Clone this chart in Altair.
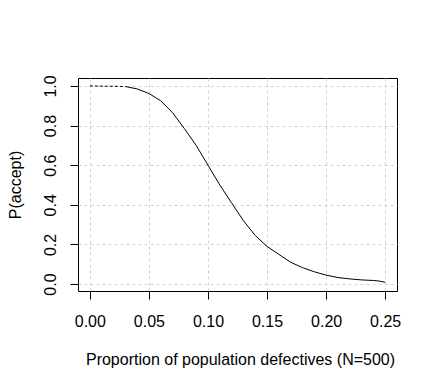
import altair as alt
import pandas as pd

p_solid = [0.03, 0.04, 0.05, 0.06, 0.07, 0.08, 0.09, 0.10, 0.11, 0.12, 0.13, 0.14,
           0.15, 0.16, 0.17, 0.18, 0.19, 0.20, 0.21, 0.22, 0.23, 0.24, 0.245, 0.25]
pa_solid = [0.997, 0.985, 0.962, 0.925, 0.865, 0.785, 0.70, 0.60, 0.50, 0.41, 0.32, 0.245,
            0.19, 0.15, 0.11, 0.083, 0.062, 0.045, 0.033, 0.026, 0.021, 0.018, 0.015, 0.009]
p_dotted = [0.0, 0.03]
pa_dotted = [1.0, 0.997]

x_ticks = [0.0, 0.05, 0.10, 0.15, 0.20, 0.25]
y_ticks = [0.0, 0.2, 0.4, 0.6, 0.8, 1.0]

solid = pd.DataFrame({"p": p_solid, "pa": pa_solid})
dotted = pd.DataFrame({"p": p_dotted, "pa": pa_dotted})

FONT = "Liberation Sans"
xs = alt.Scale(domain=[-0.01, 0.26], nice=False, zero=False)
ys = alt.Scale(domain=[-0.035, 1.04], nice=False, zero=False)

W, H = 319, 213

x_axis = alt.Axis(values=x_ticks, format=".2f", grid=True, gridColor="#d3d3d3",
                  gridDash=[3, 3], gridWidth=1, domain=False, ticks=True, tickSize=8,
                  tickColor="black", tickWidth=1, labelFont=FONT, labelFontSize=16,
                  labelColor="black", labelBaseline="alphabetic", labelPadding=27,
                  labelFlush=False, labelOverlap=False,
                  title="Proportion of population defectives (N=500)",
                  titleFont=FONT, titleFontSize=16, titleFontWeight="normal",
                  titleColor="black", titleX=162, titleY=73, titleAlign="center",
                  titleBaseline="alphabetic")
y_axis = alt.Axis(values=y_ticks, format=".1f", grid=True, gridColor="#d3d3d3",
                  gridDash=[3, 3], gridWidth=1, domain=False, ticks=True, tickSize=8,
                  tickColor="black", tickWidth=1, labelFont=FONT, labelFontSize=16,
                  labelColor="black", labelAngle=270, labelAlign="center",
                  labelBaseline="alphabetic", labelPadding=15,
                  labelFlush=False, labelOverlap=False,
                  title="P(accept)", titleFont=FONT, titleFontSize=16,
                  titleFontWeight="normal", titleColor="black", titleAngle=270,
                  titleX=-58, titleY=H / 2, titleAlign="center",
                  titleBaseline="alphabetic")

base_solid = alt.Chart(solid).mark_line(color="black", strokeWidth=1, clip=False).encode(
    x=alt.X("p:Q", scale=xs, axis=x_axis),
    y=alt.Y("pa:Q", scale=ys, axis=y_axis),
)
base_dotted = alt.Chart(dotted).mark_line(color="black", strokeWidth=1,
                                          strokeDash=[3, 2]).encode(
    x=alt.X("p:Q", scale=xs),
    y=alt.Y("pa:Q", scale=ys),
)

chart = alt.layer(base_dotted, base_solid).properties(
    width=W, height=H,
    autosize=alt.AutoSizeParams(type="none"),
    padding={"left": 70, "top": 70, "right": 33, "bottom": 90},
    background="white",
).configure_view(stroke="black", strokeWidth=1)

chart.save("out.html", embed_options={"renderer": "svg", "actions": False})
